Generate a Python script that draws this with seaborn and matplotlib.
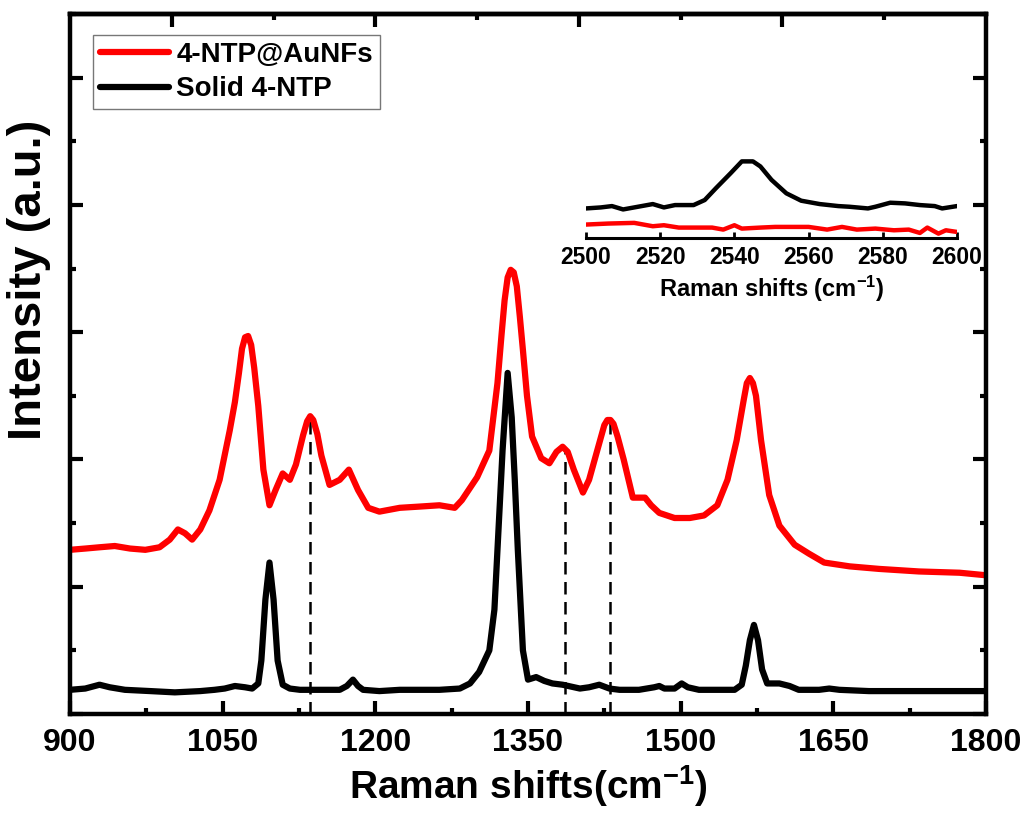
import numpy as np
import pandas as pd
import matplotlib
matplotlib.use("Agg")
import matplotlib.pyplot as plt
from matplotlib.ticker import MultipleLocator, FixedLocator, NullFormatter
import seaborn as sns

# ---------------- data ----------------
red_x = [900, 915, 929, 944, 959, 974, 988, 998, 1006, 1013,
         1020, 1028, 1037, 1047, 1057, 1062, 1066, 1069, 1072, 1075,
         1078, 1081, 1085, 1090, 1096, 1102, 1109, 1116, 1122, 1129,
         1133, 1136, 1139, 1143, 1147, 1155, 1165, 1174, 1183, 1193,
         1204, 1224, 1244, 1263, 1278, 1285, 1300, 1312, 1320, 1324,
         1327, 1330, 1333, 1336, 1339, 1342, 1345, 1349, 1354, 1363,
         1371, 1378, 1384, 1389, 1395, 1404, 1410, 1418, 1425, 1428,
         1431, 1434, 1438, 1444, 1453, 1460, 1465, 1471, 1479, 1494,
         1509, 1523, 1536, 1546, 1555, 1562, 1565, 1568, 1571, 1574,
         1579, 1587, 1597, 1612, 1626, 1641, 1666, 1695, 1734, 1774,
         1800]
red_y = [1.29, 1.30, 1.31, 1.32, 1.30, 1.29, 1.31, 1.37, 1.45, 1.42,
         1.37, 1.45, 1.60, 1.84, 2.23, 2.45, 2.68, 2.87, 2.96, 2.97,
         2.90, 2.72, 2.42, 1.92, 1.64, 1.76, 1.89, 1.84, 1.96, 2.19,
         2.30, 2.34, 2.31, 2.20, 2.03, 1.80, 1.84, 1.92, 1.76, 1.62,
         1.59, 1.62, 1.63, 1.64, 1.62, 1.68, 1.86, 2.07, 2.60, 2.98,
         3.25, 3.43, 3.49, 3.47, 3.36, 3.12, 2.86, 2.50, 2.18, 2.01,
         1.97, 2.06, 2.10, 2.06, 1.92, 1.74, 1.84, 2.07, 2.27, 2.31,
         2.31, 2.28, 2.18, 2.00, 1.70, 1.70, 1.70, 1.64, 1.58, 1.54,
         1.54, 1.56, 1.64, 1.84, 2.15, 2.47, 2.60, 2.64, 2.60, 2.50,
         2.15, 1.72, 1.48, 1.33, 1.26, 1.19, 1.16, 1.14, 1.12, 1.11,
         1.09]

black_x = [900, 915, 929, 939, 954, 979, 1003, 1028, 1042, 1052,
           1062, 1072, 1079, 1085, 1088, 1092, 1096, 1100, 1104, 1109,
           1116, 1126, 1145, 1165, 1172, 1178, 1183, 1188, 1204, 1224,
           1244, 1263, 1283, 1293, 1302, 1312, 1317, 1320, 1325, 1330,
           1334, 1337, 1340, 1345, 1350, 1358, 1366, 1374, 1384, 1401,
           1410, 1420, 1430, 1440, 1459, 1474, 1479, 1484, 1494, 1501,
           1507, 1518, 1538, 1553, 1560, 1564, 1568, 1572, 1576, 1580,
           1585, 1597, 1607, 1616, 1636, 1646, 1656, 1685, 1734, 1800]
black_y = [0.19, 0.20, 0.23, 0.21, 0.19, 0.18, 0.17, 0.18, 0.19, 0.20,
           0.22, 0.21, 0.20, 0.24, 0.42, 0.90, 1.19, 0.90, 0.42, 0.23,
           0.20, 0.19, 0.19, 0.19, 0.22, 0.27, 0.22, 0.19, 0.18, 0.19,
           0.19, 0.19, 0.20, 0.24, 0.33, 0.50, 0.82, 1.29, 2.07, 2.68,
           2.33, 1.84, 1.29, 0.50, 0.27, 0.29, 0.26, 0.24, 0.23, 0.20,
           0.21, 0.23, 0.20, 0.19, 0.19, 0.21, 0.22, 0.20, 0.20, 0.24,
           0.21, 0.19, 0.19, 0.19, 0.23, 0.38, 0.58, 0.70, 0.58, 0.35,
           0.24, 0.24, 0.22, 0.19, 0.19, 0.20, 0.19, 0.18, 0.18, 0.18]

# dashed guide lines: position and top (red peak)
guide_x = [1136, 1386, 1431]
guide_top = [2.33, 2.08, 2.30]

# inset data (2500-2600 cm-1)
ins_black_x = [2500, 2504, 2507, 2510, 2514, 2518, 2521, 2524, 2529, 2532,
               2535, 2539, 2542, 2545, 2547, 2550, 2554, 2558, 2563, 2568,
               2571, 2576, 2578, 2582, 2586, 2590, 2594, 2596, 2600]
ins_black_y = [0.88, 0.91, 0.95, 0.85, 0.93, 1.01, 0.91, 0.98, 0.98, 1.13,
               1.48, 1.93, 2.28, 2.28, 2.13, 1.73, 1.33, 1.11, 1.01, 0.95,
               0.93, 0.88, 0.93, 1.05, 1.03, 0.98, 0.95, 0.88, 0.95]
ins_red_x = [2500, 2506, 2513, 2518, 2521, 2525, 2529, 2534, 2537, 2540,
             2542, 2547, 2551, 2560, 2565, 2569, 2573, 2578, 2583, 2587,
             2590, 2592, 2595, 2597, 2600]
ins_red_y = [0.40, 0.43, 0.45, 0.35, 0.38, 0.31, 0.31, 0.31, 0.25, 0.38,
             0.28, 0.31, 0.33, 0.33, 0.25, 0.33, 0.25, 0.28, 0.23, 0.25,
             0.15, 0.31, 0.13, 0.23, 0.18]

labels = ["4-NTP@AuNFs", "Solid 4-NTP"]
colors = {"4-NTP@AuNFs": "#ff0000", "Solid 4-NTP": "#000000"}

main_df = pd.concat([
    pd.DataFrame({"shift": red_x, "intensity": red_y, "sample": labels[0]}),
    pd.DataFrame({"shift": black_x, "intensity": black_y, "sample": labels[1]}),
], ignore_index=True)
ins_df = pd.concat([
    pd.DataFrame({"shift": ins_red_x, "intensity": ins_red_y, "sample": labels[0]}),
    pd.DataFrame({"shift": ins_black_x, "intensity": ins_black_y, "sample": labels[1]}),
], ignore_index=True)

# ---------------- style ----------------
sns.set_style("ticks")
plt.rcParams["font.family"] = ["Liberation Sans", "DejaVu Sans"]
plt.rcParams["font.weight"] = "bold"
plt.rcParams["mathtext.fontset"] = "custom"
plt.rcParams["mathtext.rm"] = "Liberation Sans:bold"
plt.rcParams["mathtext.bf"] = "Liberation Sans:bold"
plt.rcParams["mathtext.it"] = "Liberation Sans:bold"
plt.rcParams["mathtext.default"] = "bf"
for key in ["axes.edgecolor", "xtick.color", "ytick.color", "text.color",
            "axes.labelcolor", "xtick.labelcolor", "ytick.labelcolor"]:
    plt.rcParams[key] = "black"

fig = plt.figure(figsize=(10.27, 8.13), dpi=100)
ax = fig.add_axes([70 / 1027, 99 / 813, 916 / 1027, 700 / 813])

lw = 4.5
sns.lineplot(data=main_df, x="shift", y="intensity", hue="sample",
             hue_order=labels, palette=colors, sort=False, estimator=None,
             linewidth=lw, ax=ax, legend=True)
for ln in ax.get_lines():
    ln.set_solid_joinstyle("round")
    ln.set_solid_capstyle("round")

ax.vlines(guide_x, 0, guide_top, colors="black", linestyles=(0, (5, 3)),
          linewidth=1.8, zorder=1)

ax.set_xlim(900, 1800)
ax.set_ylim(0, 5.5)
ax.xaxis.set_major_locator(MultipleLocator(150))
ax.xaxis.set_minor_locator(MultipleLocator(75))
ax.yaxis.set_major_locator(MultipleLocator(1))
ax.yaxis.set_minor_locator(MultipleLocator(0.5))
ax.yaxis.set_major_formatter(NullFormatter())

for sp in ax.spines.values():
    sp.set_linewidth(3.2)
    sp.set_visible(True)
    sp.set_color("black")

ax.tick_params(axis="both", which="major", direction="in", length=9.5,
               width=3, labelsize=23, pad=10, color="black", labelcolor="black")
ax.tick_params(axis="both", which="minor", direction="in", length=4.5, width=3,
               color="black")
ax.tick_params(axis="y", which="both", left=True, right=True)
ax.tick_params(axis="x", which="both", bottom=True, top=False)
for t in ax.get_xticklabels():
    t.set_fontweight("bold")

top = ax.secondary_xaxis("top")
top.xaxis.set_major_locator(FixedLocator([1000, 1200, 1400, 1600]))
top.xaxis.set_minor_locator(FixedLocator([1100, 1300, 1500, 1700]))
top.xaxis.set_major_formatter(NullFormatter())
top.tick_params(axis="x", which="major", direction="in", length=9.5, width=3,
                color="black")
top.tick_params(axis="x", which="minor", direction="in", length=4.5, width=3,
                color="black")
top.spines["top"].set_linewidth(3.2)
top.spines["top"].set_color("black")

ax.set_xlabel(r"Raman shifts(cm$^{-1}$)", fontsize=28, fontweight="bold", labelpad=4)
ax.set_ylabel("Intensity (a.u.)", fontsize=34, fontweight="bold")
ax.yaxis.set_label_coords(-0.021, 0.62)

handles, _ = ax.get_legend_handles_labels()
leg = ax.legend(handles=handles, labels=labels, loc="upper left",
                bbox_to_anchor=(0.025, 0.97), borderaxespad=0,
                prop={"family": "Liberation Sans", "weight": "bold", "size": 20},
                frameon=True, fancybox=False, edgecolor="#555555",
                handlelength=2.5, handletextpad=0.25, borderpad=0.25,
                labelspacing=0.3)
leg.get_frame().set_linewidth(1.0)
for lh in leg.get_lines():
    lh.set_linewidth(lw)
    lh.set_solid_capstyle("round")

# ---------------- inset ----------------
axin = fig.add_axes([586 / 1027, (813 - 238) / 813, 371 / 1027, 84 / 813])
axin.patch.set_alpha(0)
sns.lineplot(data=ins_df, x="shift", y="intensity", hue="sample",
             hue_order=labels, palette=colors, sort=False, estimator=None,
             linewidth=3.2, ax=axin, legend=False)
axin.set_xlim(2500, 2600)
axin.set_ylim(0, 2.5)
axin.xaxis.set_major_locator(MultipleLocator(20))
for s in ["top", "left", "right"]:
    axin.spines[s].set_visible(False)
axin.spines["bottom"].set_linewidth(2.2)
axin.spines["bottom"].set_color("black")
axin.set_yticks([])
axin.tick_params(axis="x", direction="in", length=4, width=2, labelsize=16.5,
                 pad=6, color="black", labelcolor="black")
for t in axin.get_xticklabels():
    t.set_fontweight("bold")
axin.set_xlabel(r"Raman shifts (cm$^{-1}$)", fontsize=17, fontweight="bold", labelpad=3)
axin.set_ylabel("")

fig.savefig("out.png", dpi=100)
